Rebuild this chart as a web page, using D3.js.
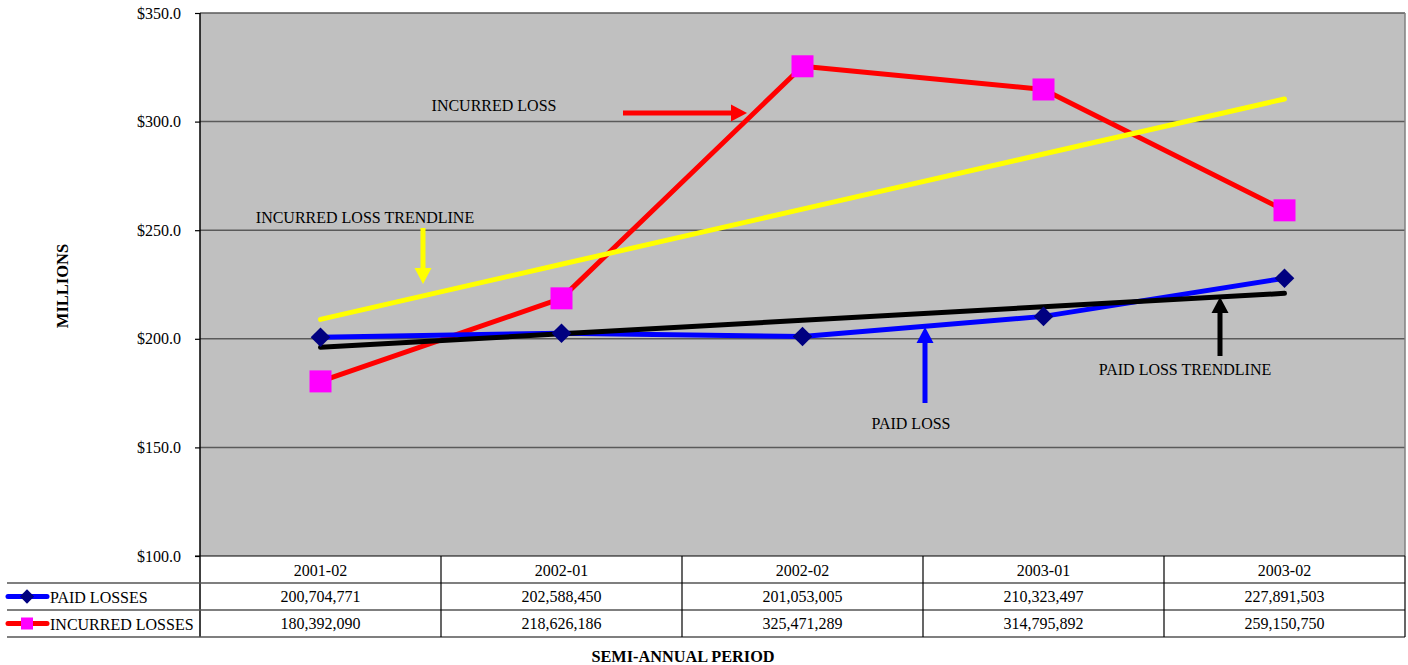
<!DOCTYPE html>
<html>
<head>
<meta charset="utf-8">
<script src="https://cdn.jsdelivr.net/npm/d3@7"></script>
<style>
  html, body { margin: 0; padding: 0; background: #ffffff; }
  svg { display: block; }
  text { font-family: "Liberation Serif", "Times New Roman", serif; fill: #000; }
</style>
</head>
<body>
<svg id="chart" width="1408" height="665"></svg>
<script>
// ---- data ----
const categories = ["2001-02", "2002-01", "2002-02", "2003-01", "2003-02"];
const paidLosses = [200704771, 202588450, 201053005, 210323497, 227891503];
const incurredLosses = [180392090, 218626186, 325471289, 314795892, 259150750];
const yTicks = [100, 150, 200, 250, 300, 350];
const seriesNames = ["PAID LOSSES", "INCURRED LOSSES"];

// ---- layout ----
const W = 1408, H = 665;
const plot = { left: 200, right: 1405, top: 13, bottom: 556 };
const rowH = 27;

const svg = d3.select("#chart");

const x = d3.scaleBand().domain(categories).range([plot.left, plot.right]).padding(0);
const y = d3.scaleLinear().domain([100, 350]).range([plot.bottom, plot.top]);
const cx = d => x(d) + x.bandwidth() / 2;

// plot background
svg.append("rect")
  .attr("x", plot.left).attr("y", plot.top)
  .attr("width", plot.right - plot.left).attr("height", plot.bottom - plot.top)
  .attr("fill", "#c0c0c0");

// gridlines
svg.append("g").selectAll("line").data(yTicks.filter(t => t > 100)).join("line")
  .attr("x1", plot.left).attr("x2", plot.right)
  .attr("y1", d => y(d)).attr("y2", d => y(d))
  .attr("stroke", "#5a5a5a").attr("stroke-width", 1.5);

// right border
svg.append("line")
  .attr("x1", plot.right).attr("x2", plot.right)
  .attr("y1", plot.top).attr("y2", plot.bottom)
  .attr("stroke", "#808080").attr("stroke-width", 1.5);

// y axis
const yAxis = d3.axisLeft(y).tickValues(yTicks)
  .tickFormat(d => "$" + d.toFixed(1)).tickSize(5).tickPadding(14);
const gy = svg.append("g").attr("transform", `translate(${plot.left},0)`).call(yAxis);
gy.select(".domain").remove();
gy.selectAll(".tick line").attr("stroke", "#000").attr("stroke-width", 1.2);
gy.selectAll(".tick text").attr("font-size", 16).attr("font-family", "Liberation Serif").attr("dy", "0.32em");

// axis line (left) extended into table
svg.append("line")
  .attr("x1", plot.left).attr("x2", plot.left)
  .attr("y1", plot.top).attr("y2", plot.bottom + rowH * 3)
  .attr("stroke", "#000").attr("stroke-width", 1.5);

// ---- table ----
const table = svg.append("g");
table.append("line")
  .attr("x1", plot.left - 5).attr("x2", plot.right)
  .attr("y1", plot.bottom).attr("y2", plot.bottom)
  .attr("stroke", "#000").attr("stroke-width", 1.2);
table.selectAll("line.h").data([1, 2, 3]).join("line").attr("class", "h")
  .attr("x1", 7).attr("x2", plot.right)
  .attr("y1", d => plot.bottom + d * rowH).attr("y2", d => plot.bottom + d * rowH)
  .attr("stroke", "#555").attr("stroke-width", 1.5);
table.selectAll("line.v").data(categories).join("line").attr("class", "v")
  .attr("x1", d => x(d) + x.bandwidth()).attr("x2", d => x(d) + x.bandwidth())
  .attr("y1", plot.bottom).attr("y2", plot.bottom + rowH * 3)
  .attr("stroke", "#000").attr("stroke-width", 1.2);
table.selectAll("text.cat").data(categories).join("text").attr("class", "cat")
  .attr("x", d => cx(d)).attr("y", plot.bottom + rowH / 2 + 1)
  .attr("text-anchor", "middle").attr("dy", "0.35em").attr("font-size", 16)
  .text(d => d);
const fmt = d3.format(",");
[paidLosses, incurredLosses].forEach((vals, r) => {
  table.selectAll("text.v" + r).data(vals).join("text").attr("class", "v" + r)
    .attr("x", (d, i) => cx(categories[i]))
    .attr("y", plot.bottom + rowH * (r + 1) + rowH / 2)
    .attr("text-anchor", "middle").attr("dy", "0.35em").attr("font-size", 16)
    .text(d => fmt(d));
});
seriesNames.forEach((name, r) => {
  const yy = plot.bottom + rowH * (r + 1) + rowH / 2;
  table.append("line").attr("x1", 8).attr("x2", 47).attr("y1", yy).attr("y2", yy)
    .attr("stroke", r === 0 ? "#0000ff" : "#ff0000").attr("stroke-width", 5)
    .attr("stroke-linecap", "round");
  if (r === 0) {
    table.append("path").attr("d", d3.symbol(d3.symbolDiamond2, 130)())
      .attr("transform", `translate(27,${yy})`).attr("fill", "#000080");
  } else {
    table.append("rect").attr("x", 21).attr("y", yy - 6).attr("width", 12).attr("height", 12)
      .attr("fill", "#ff00ff");
  }
  table.append("text").attr("x", 50).attr("y", yy + 1).attr("dy", "0.35em")
    .attr("font-size", 16).text(name);
});

// axis titles
svg.append("text").attr("x", 683).attr("y", 656).attr("dy", "0.35em")
  .attr("text-anchor", "middle").attr("font-size", 16.3).attr("font-weight", "bold")
  .text("SEMI-ANNUAL PERIOD");
svg.append("text").attr("transform", "translate(62,286) rotate(-90)")
  .attr("dy", "0.35em").attr("text-anchor", "middle")
  .attr("font-size", 16.5).attr("font-weight", "bold").text("MILLIONS");

// ---- series ----
const toM = v => v / 1e6;
function trend(vals) {
  const n = vals.length, xs = d3.range(1, n + 1);
  const mx = d3.mean(xs), my = d3.mean(vals);
  const slope = d3.sum(xs, (xv, i) => (xv - mx) * (vals[i] - my)) / d3.sum(xs, xv => (xv - mx) ** 2);
  const b = my - slope * mx;
  return xs.map(xv => b + slope * xv);
}
const line = d3.line().x((d, i) => cx(categories[i])).y(d => y(d));

const paidM = paidLosses.map(toM), incM = incurredLosses.map(toM);
const paidTrend = trend(paidM), incTrend = trend(incM);

svg.append("path").datum(incM).attr("d", line).attr("fill", "none")
  .attr("stroke", "#ff0000").attr("stroke-width", 5).attr("stroke-linejoin", "round");
svg.append("path").datum(paidM).attr("d", line).attr("fill", "none")
  .attr("stroke", "#0000ff").attr("stroke-width", 5).attr("stroke-linejoin", "round");

svg.append("path").datum(incTrend).attr("d", line).attr("fill", "none")
  .attr("stroke", "#ffff00").attr("stroke-width", 5).attr("stroke-linecap", "round");
svg.append("path").datum(paidTrend).attr("d", line).attr("fill", "none")
  .attr("stroke", "#000000").attr("stroke-width", 5).attr("stroke-linecap", "round");

svg.append("g").selectAll("path").data(paidM).join("path")
  .attr("d", d3.symbol(d3.symbolDiamond2, 245)())
  .attr("transform", (d, i) => `translate(${cx(categories[i])},${y(d)})`)
  .attr("fill", "#000080");
svg.append("g").selectAll("rect").data(incM).join("rect")
  .attr("x", (d, i) => cx(categories[i]) - 11).attr("y", d => y(d) - 11)
  .attr("width", 22).attr("height", 22).attr("fill", "#ff00ff");

// ---- annotations ----
function arrow(x1, y1, x2, y2, color) {
  const ang = Math.atan2(y2 - y1, x2 - x1);
  const hl = 16, hw = 8.5;
  const bx = x2 - hl * Math.cos(ang), by = y2 - hl * Math.sin(ang);
  svg.append("line").attr("x1", x1).attr("y1", y1).attr("x2", bx).attr("y2", by)
    .attr("stroke", color).attr("stroke-width", 5);
  const px = -Math.sin(ang), py = Math.cos(ang);
  svg.append("path")
    .attr("d", `M${x2},${y2}L${bx + px * hw},${by + py * hw}L${bx - px * hw},${by - py * hw}Z`)
    .attr("fill", color);
}
const notes = [
  { text: "INCURRED LOSS", tx: 494, ty: 105, arrow: [623, 113, 747, 113], color: "#ff0000" },
  { text: "INCURRED LOSS TRENDLINE", tx: 365, ty: 217, arrow: [423, 228, 423, 284], color: "#ffff00" },
  { text: "PAID LOSS", tx: 911, ty: 423, arrow: [925, 403, 925, 327], color: "#0000ff" },
  { text: "PAID LOSS TRENDLINE", tx: 1185, ty: 369, arrow: [1220, 356, 1220, 297], color: "#000000" }
];
notes.forEach(n => {
  arrow(...n.arrow, n.color);
  svg.append("text").attr("x", n.tx).attr("y", n.ty).attr("dy", "0.35em")
    .attr("text-anchor", "middle").attr("font-size", 16).text(n.text);
});
</script>
</body>
</html>
